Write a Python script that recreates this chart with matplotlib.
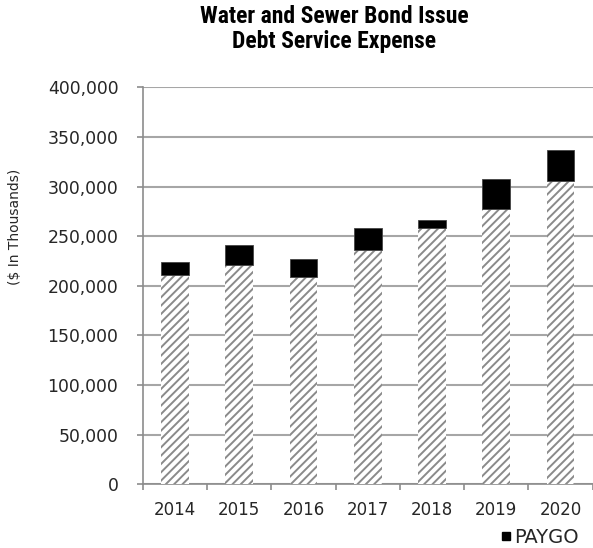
import numpy as np
import matplotlib
matplotlib.use("Agg")
import matplotlib.pyplot as plt
from matplotlib.lines import Line2D
from matplotlib.ticker import FuncFormatter

years = ["2014", "2015", "2016", "2017", "2018", "2019", "2020"]
bond_issue = [210800, 220800, 209000, 236300, 258000, 277000, 306000]
paygo = [13400, 20200, 18500, 21700, 8500, 30500, 30400]

plt.rcParams["hatch.linewidth"] = 1.4
TICK_FONT = "DejaVu Sans"
TITLE_FONT = ["Liberation Sans Narrow", "Arial Narrow", "Roboto Condensed",
              "DejaVu Sans"]

fig = plt.figure(figsize=(5.93, 5.48), dpi=100)
ax = fig.add_axes([0.2406, 0.1162, 0.7590, 0.7245])

x = np.arange(len(years))
ax.bar(x, bond_issue, width=0.43, color="white", edgecolor="#8a8a8a",
       hatch="////", linewidth=0, zorder=3)
ax.bar(x, paygo, width=0.43, bottom=bond_issue, color="black",
       edgecolor="#444444", linewidth=0.6, zorder=3)

ax.set_xlim(-0.5, len(years) - 0.5)
ax.set_ylim(0, 400000)
ax.set_yticks(np.arange(0, 400001, 50000))
ax.yaxis.set_major_formatter(FuncFormatter(lambda v, p: f"{int(v):,}"))
ax.yaxis.grid(True, color="#a6a6a6", linewidth=1.5, zorder=0)

ax.set_xticks(x)
ax.set_xticklabels(years)
ax.set_xticks(np.arange(-0.5, len(years), 1), minor=True)
ax.tick_params(axis="x", which="major", length=0, pad=12)
ax.tick_params(axis="x", which="minor", length=4.5, color="#8c8c8c", width=1.2)
ax.tick_params(axis="y", length=4.5, color="#8c8c8c", width=1.2, pad=13)

for lbl in ax.get_xticklabels():
    lbl.set_fontfamily(TICK_FONT)
    lbl.set_fontsize(12)
    lbl.set_color("#262626")
for lbl in ax.get_yticklabels():
    lbl.set_fontfamily(TICK_FONT)
    lbl.set_fontsize(12.4)
    lbl.set_color("#262626")

for side in ["top", "right"]:
    ax.spines[side].set_visible(False)
for side in ["left", "bottom"]:
    ax.spines[side].set_color("#8c8c8c")
    ax.spines[side].set_linewidth(1.2)

fig.text(15 / 593, 1 - 226.5 / 548, "($ In Thousands)", rotation=90,
         ha="center", va="center", family=TICK_FONT, fontsize=10,
         color="#262626")

fig.text(0.563, 1 - 23.3 / 548, "Water and Sewer Bond Issue", ha="center",
         va="baseline", fontsize=17, fontweight="bold", family=TITLE_FONT)
fig.text(0.563, 1 - 48.3 / 548, "Debt Service Expense", ha="center",
         va="baseline", fontsize=17, fontweight="bold", family=TITLE_FONT)

handle = Line2D([], [], marker="s", color="black", linestyle="",
                markersize=6.2)
leg = fig.legend([handle], ["PAYGO"], loc="center left",
                 bbox_to_anchor=(501 / 593, 1 - 537.5 / 548),
                 frameon=False, borderpad=0, borderaxespad=0,
                 handlelength=0.5, handletextpad=0.2,
                 prop={"family": TICK_FONT, "size": 14})
for t in leg.get_texts():
    t.set_color("#262626")

fig.savefig("out.png", dpi=100)
